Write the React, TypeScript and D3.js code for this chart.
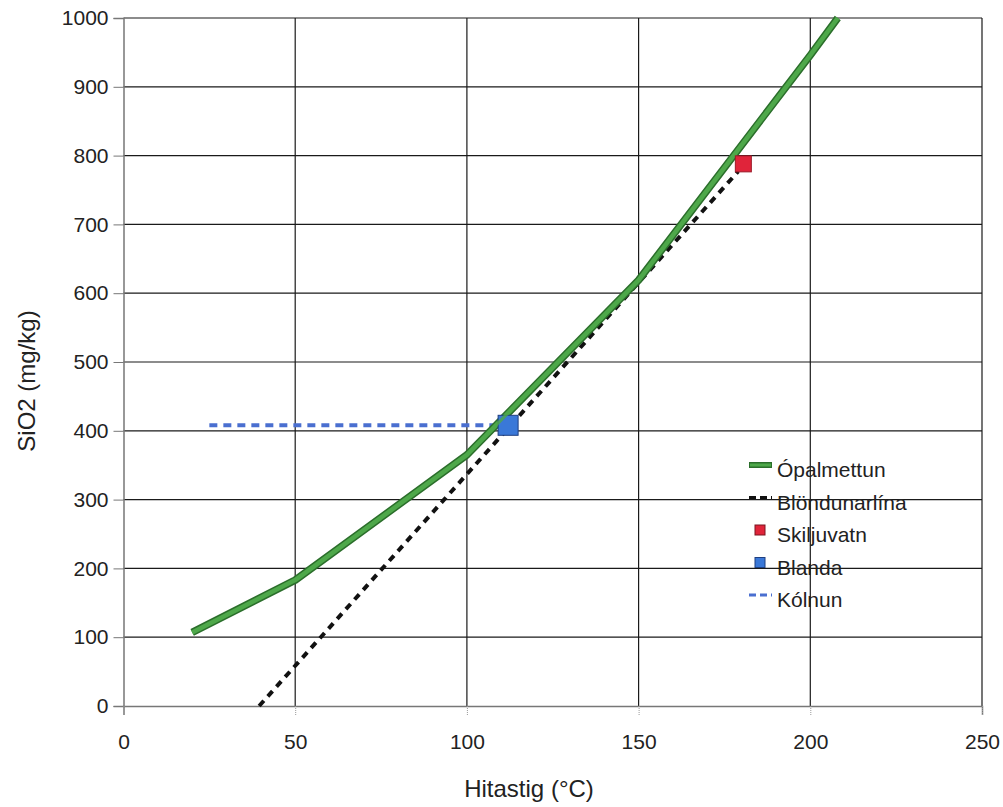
import { useEffect, useRef } from "react";
import * as d3 from "d3";

// Ópalmettun (opal saturation) curve
const opalTemp = [20, 50, 100, 150, 200, 208];
const opalSiO2 = [107, 183, 365, 619, 946, 1000];

// Blöndunarlína (mixing line)
const mixTemp = [39.5, 179];
const mixSiO2 = [0, 777];

// single points
const skiljuvatn = { temp: 180.5, sio2: 788 };
const blanda = { temp: 112, sio2: 408 };

// Kólnun (cooling) line
const coolTemp = [25, 112];
const coolSiO2 = [408, 408];

const xTicks = [0, 50, 100, 150, 200, 250];
const yTicks = [0, 100, 200, 300, 400, 500, 600, 700, 800, 900, 1000];

const legendItems = ["Ópalmettun", "Blöndunarlína", "Skiljuvatn", "Blanda", "Kólnun"];

const App = () => {
  const svgRef = useRef<SVGSVGElement | null>(null);

  useEffect(() => {
    const svg = d3.select(svgRef.current);
    svg.selectAll("*").remove();

    const font = "'Liberation Sans', Arial, sans-serif";
    const x = d3.scaleLinear().domain([0, 250]).range([123.5, 982]);
    const y = d3.scaleLinear().domain([0, 1000]).range([706, 18]);

    svg.append("rect").attr("width", 1003).attr("height", 807).attr("fill", "white");

    const grid = svg.append("g");
    // horizontal grid
    grid
      .selectAll(".hgrid")
      .data(yTicks.filter((d) => d > 0))
      .enter()
      .append("line")
      .attr("x1", x(0))
      .attr("x2", x(250))
      .attr("y1", (d) => y(d))
      .attr("y2", (d) => y(d))
      .attr("stroke", "#1a1a1a")
      .attr("stroke-width", 1.2);
    // vertical grid
    grid
      .selectAll(".vgrid")
      .data(xTicks.filter((d) => d > 0))
      .enter()
      .append("line")
      .attr("x1", (d) => x(d))
      .attr("x2", (d) => x(d))
      .attr("y1", y(0))
      .attr("y2", y(1000))
      .attr("stroke", "#1a1a1a")
      .attr("stroke-width", 1.2);

    // axes
    const yAxis = svg
      .append("g")
      .attr("transform", `translate(${x(0)},0)`)
      .call(
        d3.axisLeft(y).tickValues(yTicks).tickFormat(d3.format("d")).tickSize(10).tickPadding(5)
      );
    yAxis.select(".domain").attr("stroke", "#777").attr("stroke-width", 1.5);
    yAxis.selectAll(".tick line").attr("stroke", "#777");
    yAxis
      .selectAll("text")
      .attr("font-family", font)
      .attr("font-size", 21)
      .attr("fill", "#222");

    const xAxis = svg
      .append("g")
      .attr("transform", `translate(0,${y(0)})`)
      .call(
        d3.axisBottom(x).tickValues(xTicks).tickFormat(d3.format("d")).tickSize(9).tickPadding(19)
      );
    xAxis.select(".domain").attr("stroke", "#777").attr("stroke-width", 1.5);
    xAxis.selectAll(".tick line").attr("stroke", "#999").attr("stroke-dasharray", "1,1");
    xAxis
      .selectAll("text")
      .attr("font-family", font)
      .attr("font-size", 21)
      .attr("fill", "#222");

    svg
      .append("text")
      .attr("x", 529)
      .attr("y", 797)
      .attr("text-anchor", "middle")
      .attr("font-family", font)
      .attr("font-size", 24)
      .attr("fill", "#222")
      .text("Hitastig (°C)");

    svg
      .append("text")
      .attr("transform", `translate(35,381) rotate(-90)`)
      .attr("text-anchor", "middle")
      .attr("font-family", font)
      .attr("font-size", 24)
      .attr("fill", "#222")
      .text("SiO2 (mg/kg)");

    const lineGen = d3
      .line<[number, number]>()
      .x((d) => x(d[0]))
      .y((d) => y(d[1]));

    // mixing line
    svg
      .append("path")
      .datum(mixTemp.map((t, i) => [t, mixSiO2[i]] as [number, number]))
      .attr("d", lineGen)
      .attr("fill", "none")
      .attr("stroke", "#111")
      .attr("stroke-width", 4)
      .attr("stroke-dasharray", "7,6");

    // cooling line
    svg
      .append("path")
      .datum(coolTemp.map((t, i) => [t, coolSiO2[i]] as [number, number]))
      .attr("d", lineGen)
      .attr("fill", "none")
      .attr("stroke", "#4a6fd0")
      .attr("stroke-width", 4)
      .attr("stroke-dasharray", "8,6");

    // opal curve
    const opalData = opalTemp.map((t, i) => [t, opalSiO2[i]] as [number, number]);
    svg
      .append("path")
      .datum(opalData)
      .attr("d", lineGen)
      .attr("fill", "none")
      .attr("stroke", "#2b6e2b")
      .attr("stroke-width", 7.5)
      .attr("stroke-linejoin", "round");
    svg
      .append("path")
      .datum(opalData)
      .attr("d", lineGen)
      .attr("fill", "none")
      .attr("stroke", "#4ea84a")
      .attr("stroke-width", 4.5)
      .attr("stroke-linejoin", "round");

    // markers
    svg
      .append("rect")
      .attr("x", x(skiljuvatn.temp) - 8)
      .attr("y", y(skiljuvatn.sio2) - 8)
      .attr("width", 16)
      .attr("height", 16)
      .attr("fill", "#e0243a")
      .attr("stroke", "#9a1a28")
      .attr("stroke-width", 1);
    svg
      .append("rect")
      .attr("x", x(blanda.temp) - 10)
      .attr("y", y(blanda.sio2) - 10)
      .attr("width", 20)
      .attr("height", 20)
      .attr("fill", "#3a78d8")
      .attr("stroke", "#1f3f80")
      .attr("stroke-width", 1);
    // opal line showing through the blue square
    svg
      .append("path")
      .datum(opalData.slice(2, 4))
      .attr("d", lineGen)
      .attr("fill", "none")
      .attr("stroke", "#4ea84a")
      .attr("stroke-width", 3)
      .attr("opacity", 0.8);

    // legend
    const legend = svg.append("g").attr("transform", "translate(749,465)");
    legendItems.forEach((name, i) => {
      const g = legend.append("g").attr("transform", `translate(0,${i * 32.5})`);
      if (i === 0) {
        g.append("line")
          .attr("x1", 0).attr("x2", 23).attr("y1", 0).attr("y2", 0)
          .attr("stroke", "#2b6e2b").attr("stroke-width", 6);
        g.append("line")
          .attr("x1", 1).attr("x2", 22).attr("y1", 0).attr("y2", 0)
          .attr("stroke", "#4ea84a").attr("stroke-width", 3);
      } else if (i === 1) {
        g.append("line")
          .attr("x1", 0).attr("x2", 23).attr("y1", 0).attr("y2", 0)
          .attr("stroke", "#111").attr("stroke-width", 3).attr("stroke-dasharray", "7,4");
      } else if (i === 2) {
        g.append("rect")
          .attr("x", 6).attr("y", -5).attr("width", 10).attr("height", 10)
          .attr("fill", "#e0243a").attr("stroke", "#7a1520");
      } else if (i === 3) {
        g.append("rect")
          .attr("x", 6).attr("y", -5).attr("width", 10).attr("height", 10)
          .attr("fill", "#3a78d8").attr("stroke", "#1f3f80");
      } else {
        g.append("line")
          .attr("x1", 0).attr("x2", 23).attr("y1", 0).attr("y2", 0)
          .attr("stroke", "#4a6fd0").attr("stroke-width", 3).attr("stroke-dasharray", "7,4");
      }
      g.append("text")
        .attr("x", 28)
        .attr("y", 12)
        .attr("font-family", font)
        .attr("font-size", 21)
        .attr("fill", "#222")
        .text(name);
    });
  }, []);

  return (
    <div style={{ position: "absolute", left: 0, top: 0 }}>
      <svg ref={svgRef} width={1003} height={807} style={{ display: "block" }}></svg>
    </div>
  );
};

export default App;
